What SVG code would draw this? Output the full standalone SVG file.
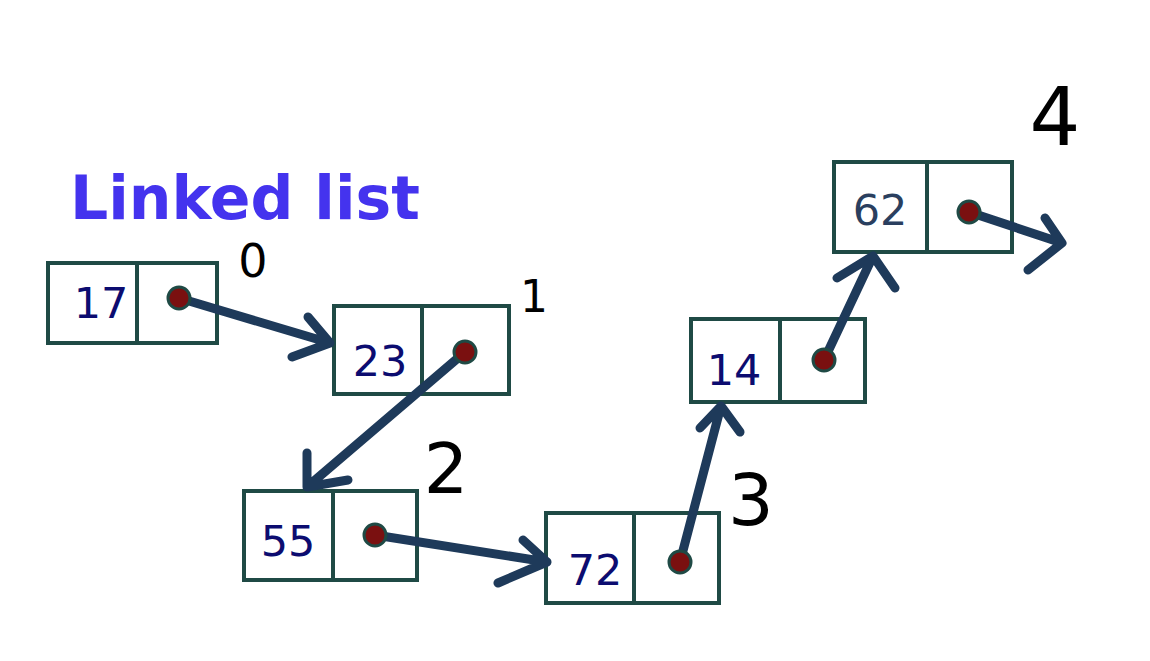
<svg xmlns="http://www.w3.org/2000/svg" width="1150" height="661" viewBox="0 0 1150 661">
<style>
.box{fill:#ffffff;stroke:#1f4a45;stroke-width:4}
.div{stroke:#1f4a45;stroke-width:4}
.dot{fill:#7a1010;stroke:#1f4a45;stroke-width:3}
.val{font-family:"DejaVu Sans",sans-serif;font-size:43px;fill:#0c0c70;text-anchor:middle}
.arr{fill:none;stroke:#1e3a5a;stroke-width:9;stroke-linecap:round;stroke-linejoin:round}
.idx{font-family:"DejaVu Sans",sans-serif;fill:#000000;text-anchor:middle}
.title{font-family:"DejaVu Sans",sans-serif;font-weight:bold;font-size:60px;fill:#4433ee}
</style>
<rect width="1150" height="661" fill="#ffffff"/>
<text class="title" x="70" y="219">Linked list</text>

<g id="node17">
<rect class="box" x="48" y="263" width="169" height="80"/>
<line class="div" x1="137" y1="263" x2="137" y2="343"/>
<text class="val" x="101" y="318">17</text>
</g>
<g id="node23">
<rect class="box" x="334" y="306" width="175" height="88"/>
<line class="div" x1="422" y1="306" x2="422" y2="394"/>
<text class="val" x="380" y="376">23</text>
</g>
<g id="node55">
<rect class="box" x="244" y="491" width="173" height="89"/>
<line class="div" x1="333" y1="491" x2="333" y2="580"/>
<text class="val" x="288" y="556">55</text>
</g>
<g id="node72">
<rect class="box" x="546" y="513" width="173" height="90"/>
<line class="div" x1="634" y1="513" x2="634" y2="603"/>
<text class="val" x="595" y="585">72</text>
</g>
<g id="node14">
<rect class="box" x="691" y="319" width="174" height="83"/>
<line class="div" x1="780" y1="319" x2="780" y2="402"/>
<text class="val" x="734" y="385">14</text>
</g>
<g id="node62">
<rect class="box" x="834" y="162" width="178" height="90"/>
<line class="div" x1="927" y1="162" x2="927" y2="252"/>
<text class="val" x="880" y="225" style="fill:#2a3f5f">62</text>
</g>

<g id="connectors">
<path class="arr" d="M179 298 L330 343 M308 317 L330 343 L292 357"/>
<path class="arr" d="M465 352 L307 487 M307 453 L307 487 L348 480"/>
<path class="arr" d="M375 535 L547 562 M523 540 L547 562 L498 583"/>
<path class="arr" d="M680 562 L721 406 M700 428 L721 406 L740 432"/>
<path class="arr" d="M824 360 L873 256 M837 278 L873 256 L895 288"/>
<path class="arr" d="M969 212 L1062 243 M1045 218 L1062 243 L1028 270"/>
</g>

<g id="pointers">
<circle class="dot" cx="179" cy="298" r="11"/>
<circle class="dot" cx="465" cy="352" r="11"/>
<circle class="dot" cx="375" cy="535" r="11"/>
<circle class="dot" cx="680" cy="562" r="11"/>
<circle class="dot" cx="824" cy="360" r="11"/>
<circle class="dot" cx="969" cy="212" r="11"/>
</g>

<g id="labels">
<text class="idx" x="253" y="277" font-size="46">0</text>
<text class="idx" x="534" y="312" font-size="44">1</text>
<text class="idx" x="446" y="493" font-size="70">2</text>
<text class="idx" x="751" y="525" font-size="72">3</text>
<text class="idx" x="1055" y="145" font-size="80">4</text>
</g>
</svg>
